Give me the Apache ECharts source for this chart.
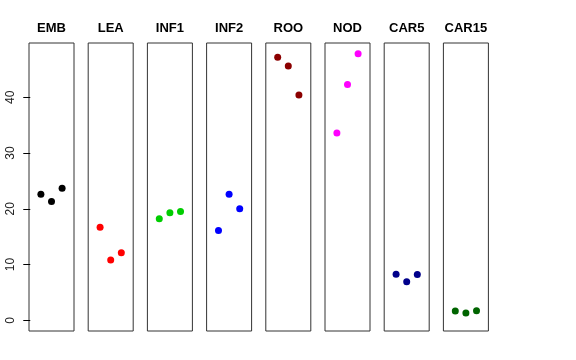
<!DOCTYPE html>
<html><head><meta charset="utf-8">
<script src="https://cdn.jsdelivr.net/npm/echarts@6/dist/echarts.min.js"></script>
<style>html,body{margin:0;padding:0;background:#fff}#c{width:576px;height:360px}</style>
</head><body><div id="c"></div>
<script>
const panels = ["EMB","LEA","INF1","INF2","ROO","NOD","CAR5","CAR15"];
const colors = ["#000000","#FF0000","#00CD00","#0000FF","#8B0000","#FF00FF","#00008B","#006400"];
const positions = [1,2,3];
const EMB = [22.6,21.3,23.7];
const LEA = [16.7,10.8,12.1];
const INF1 = [18.2,19.3,19.5];
const INF2 = [16.1,22.6,20.0];
const ROO = [47.2,45.6,40.4];
const NOD = [33.6,42.3,47.8];
const CAR5 = [8.25,6.9,8.2];
const CAR15 = [1.67,1.3,1.72];
const yTicks = [0,10,20,30,40];
const values = [EMB,LEA,INF1,INF2,ROO,NOD,CAR5,CAR15];

const chart = echarts.init(document.getElementById('c'), null, {renderer:'canvas'});
const left0 = 29, step = 59.2, pw = 45, ptop = 43, ph = 288;
const grid=[], xAxis=[], yAxis=[], series=[], title=[];
panels.forEach((p,i)=>{
  const l = left0 + i*step;
  grid.push({left:l, top:ptop, width:pw, height:ph, show:true, borderColor:'#333', borderWidth:1, backgroundColor:'transparent'});
  xAxis.push({gridIndex:i, type:'value', min:-0.12, max:4.12, show:false});
  yAxis.push({gridIndex:i, type:'value', min:-1.92, max:49.74,
    show: i===0,
    splitLine:{show:false},
    axisLine:{show:false},
    axisTick:{show:i===0, length:7, lineStyle:{color:'#000'}, customValues: yTicks},
    axisLabel:{show:i===0, rotate:90, margin:12, fontSize:12, color:'#222', fontFamily:'Liberation Sans, Arial, sans-serif', customValues: yTicks}
  });
  series.push({type:'scatter', xAxisIndex:i, yAxisIndex:i, symbolSize:7,
    itemStyle:{color:colors[i], opacity:1}, silent:true, animation:false,
    data: positions.map((x,k)=>[x, values[i][k]])});
  title.push({text:p, left:l + pw/2, top:22, textAlign:'center', padding:0,
    textStyle:{fontSize:13, fontWeight:'bold', color:'#000', fontFamily:'Liberation Sans, Arial, sans-serif'}});
});
chart.setOption({animation:false, title, grid, xAxis, yAxis, series});
</script></body></html>
